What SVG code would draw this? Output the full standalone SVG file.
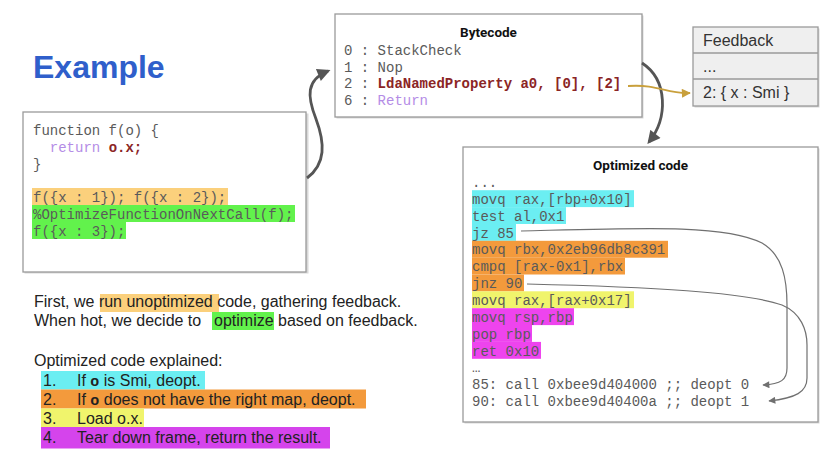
<svg xmlns="http://www.w3.org/2000/svg" width="840" height="475" viewBox="0 0 840 475">
<style>
.box{fill:#fff;stroke:#9a9a9a;stroke-width:1.3}
.shadow{fill:#d8d8d8}
.mono{font-family:"Liberation Mono","DejaVu Sans Mono",monospace;font-size:14px;fill:#5a5a5a}
.title{font-family:Roboto,"Liberation Sans",sans-serif;font-size:13.5px;font-weight:700;fill:#111;text-anchor:middle}
.sans{font-family:"Liberation Sans",Arial,sans-serif;font-size:16px;fill:#222}
.fb{font-family:"Liberation Sans",Arial,sans-serif;font-size:16px;fill:#333}
.red{fill:#8b2525;font-weight:700}
.purple{fill:#b48ce6}
.heavy{fill:none;stroke:#555;stroke-width:2.8}
.thin{fill:none;stroke:#707070;stroke-width:1.2}
.gold{fill:none;stroke:#c9a03c;stroke-width:1.8}
.cyan{fill:#6beef2}
.orange{fill:#f39a3c}
.yellow{fill:#f0f46c}
.magenta{fill:#ee44ee}
.lorange{fill:#fbd07c}
.green{fill:#62f24c}
</style>
<defs>
<marker id="ahHeavy" viewBox="0 0 10 10" refX="8" refY="5" markerWidth="14" markerHeight="13" markerUnits="userSpaceOnUse" orient="auto"><path d="M0,0 L10,5 L0,10 z" fill="#555"/></marker>
<marker id="ahGold" viewBox="0 0 10 10" refX="9" refY="5" markerWidth="10" markerHeight="9" markerUnits="userSpaceOnUse" orient="auto"><path d="M0,0 L10,5 L0,10 z" fill="#c9a03c"/></marker>
<marker id="ahThin" viewBox="0 0 10 10" refX="9" refY="5" markerWidth="9" markerHeight="7" markerUnits="userSpaceOnUse" orient="auto"><path d="M0,0 L10,5 L0,10 z" fill="#707070"/></marker>
</defs>
<rect width="840" height="475" fill="#fff"/>

<g id="heading">
<text x="33" y="78" font-family="'Liberation Sans',Arial,sans-serif" font-size="32" font-weight="700" fill="#2f5fcb">Example</text>
</g>

<g id="source-code">
<rect class="shadow" x="24.5" y="113.5" width="284" height="160"/>
<rect class="box" x="23" y="112" width="283" height="160"/>
<rect class="lorange" x="32" y="188" width="196" height="17"/>
<rect class="green" x="32" y="205" width="263" height="17"/>
<rect class="green" x="32" y="222" width="94" height="17"/>
<text class="mono" x="33" y="135">function f(o) {</text>
<text class="mono" x="33" y="152" xml:space="preserve">  <tspan class="purple">return</tspan> <tspan class="red">o.x;</tspan></text>
<text class="mono" x="33" y="169">}</text>
<text class="mono" x="33" y="201.5">f({x : 1}); f({x : 2});</text>
<text class="mono" x="33" y="218.5">%OptimizeFunctionOnNextCall(f);</text>
<text class="mono" x="33" y="235.5">f({x : 3});</text>
</g>

<g id="bytecode">
<rect class="shadow" x="336.5" y="15.5" width="307" height="103"/>
<rect class="box" x="335" y="14" width="307" height="103"/>
<text class="title" x="488.5" y="37">Bytecode</text>
<text class="mono" x="344" y="55" xml:space="preserve">0 : StackCheck</text>
<text class="mono" x="344" y="71.5" xml:space="preserve">1 : Nop</text>
<text class="mono" x="344" y="88" xml:space="preserve">2 : <tspan class="red">LdaNamedProperty a0, [0], [2]</tspan></text>
<text class="mono" x="344" y="104.5" xml:space="preserve">6 : <tspan class="purple">Return</tspan></text>
</g>

<g id="feedback">
<rect x="694.5" y="28.5" width="125" height="79" fill="#d8d8d8"/>
<rect x="693" y="27" width="125" height="79" fill="#efefef" stroke="#9a9a9a" stroke-width="1.3"/>
<line x1="693" y1="53" x2="818" y2="53" stroke="#9a9a9a" stroke-width="1.3"/>
<line x1="693" y1="79" x2="818" y2="79" stroke="#9a9a9a" stroke-width="1.3"/>
<text class="fb" x="703" y="46">Feedback</text>
<text class="fb" x="703" y="72">...</text>
<text class="fb" x="703" y="98">2: { x : Smi }</text>
</g>

<g id="optimized-code">
<rect class="shadow" x="464.5" y="148.5" width="355" height="275"/>
<rect class="box" x="463" y="147" width="355" height="275"/>
<text class="title" x="640.5" y="170">Optimized code</text>
<rect class="cyan" x="472" y="190.2" width="162" height="16.9"/>
<rect class="cyan" x="472" y="207.1" width="94" height="16.9"/>
<rect class="cyan" x="472" y="223.9" width="44" height="16.9"/>
<rect class="orange" x="472" y="240.8" width="196" height="16.9"/>
<rect class="orange" x="472" y="257.6" width="153" height="16.9"/>
<rect class="orange" x="472" y="274.5" width="52" height="16.9"/>
<rect class="yellow" x="472" y="291.3" width="162" height="16.9"/>
<rect class="magenta" x="472" y="308.2" width="102" height="16.9"/>
<rect class="magenta" x="472" y="325" width="60" height="16.9"/>
<rect class="magenta" x="472" y="341.9" width="69" height="16.9"/>
<text class="mono" x="472" y="187">...</text>
<text class="mono" x="472" y="203.85">movq rax,[rbp+0x10]</text>
<text class="mono" x="472" y="220.7">test al,0x1</text>
<text class="mono" x="472" y="237.55">jz 85</text>
<text class="mono" x="472" y="254.4">movq rbx,0x2eb96db8c391</text>
<text class="mono" x="472" y="271.25">cmpq [rax-0x1],rbx</text>
<text class="mono" x="472" y="288.1">jnz 90</text>
<text class="mono" x="472" y="304.95">movq rax,[rax+0x17]</text>
<text class="mono" x="472" y="321.8">movq rsp,rbp</text>
<text class="mono" x="472" y="338.65">pop rbp</text>
<text class="mono" x="472" y="355.5">ret 0x10</text>
<text class="mono" x="472" y="372.35" font-size="11">…</text>
<text class="mono" x="472" y="389.2">85: call 0xbee9d404000 ;; deopt 0</text>
<text class="mono" x="472" y="406.05">90: call 0xbee9d40400a ;; deopt 1</text>
</g>

<g id="explanation">
<rect class="lorange" x="100" y="294" width="119" height="18"/>
<rect class="green" x="212" y="312" width="62" height="18"/>
<text class="sans" x="34" y="307">First, we run unoptimized code, gathering feedback.</text>
<text class="sans" x="34" y="326">When hot, we decide to <tspan x="214">optimize</tspan> based on feedback.</text>
<text class="sans" x="34" y="366">Optimized code explained:</text>
<rect class="cyan" x="41" y="371" width="164" height="18.5"/>
<rect class="orange" x="41" y="389.5" width="325" height="19"/>
<rect class="yellow" x="41" y="408.5" width="103" height="18.5"/>
<rect fill="#d544ec" x="41" y="427" width="289" height="21.5"/>
<text class="sans" y="386"><tspan x="43">1.</tspan><tspan x="77">If </tspan><tspan font-family="'Liberation Mono',monospace" font-weight="700" font-size="15">o</tspan><tspan> is Smi, deopt.</tspan></text>
<text class="sans" y="405"><tspan x="43">2.</tspan><tspan x="77">If </tspan><tspan font-family="'Liberation Mono',monospace" font-weight="700" font-size="15">o</tspan><tspan> does not have the right map, deopt.</tspan></text>
<text class="sans" y="424"><tspan x="43">3.</tspan><tspan x="77">Load o.x.</tspan></text>
<text class="sans" y="443"><tspan x="43">4.</tspan><tspan x="77">Tear down frame, return the result.</tspan></text>
</g>

<g id="connectors">
<path class="heavy" d="M307,178 C326,164 325,143 316,119 C307,96 306,80 328,71" marker-end="url(#ahHeavy)"/>
<path class="heavy" d="M642,63 C668,80 668,118 649,142" marker-end="url(#ahHeavy)"/>
<path class="gold" d="M628,86 C660,84 665,94 690,93" marker-end="url(#ahGold)"/>
<path class="thin" d="M521,231 C640,228 725,224 762,243 C783,255 787,280 787,305 L787,368 C787,380 781,384 763,385" marker-end="url(#ahThin)"/>
<path class="thin" d="M527,284 C650,287 745,292 782,305 C801,313 807,330 807,345 L807,378 C807,392 796,398 769,401" marker-end="url(#ahThin)"/>
</g>
</svg>
